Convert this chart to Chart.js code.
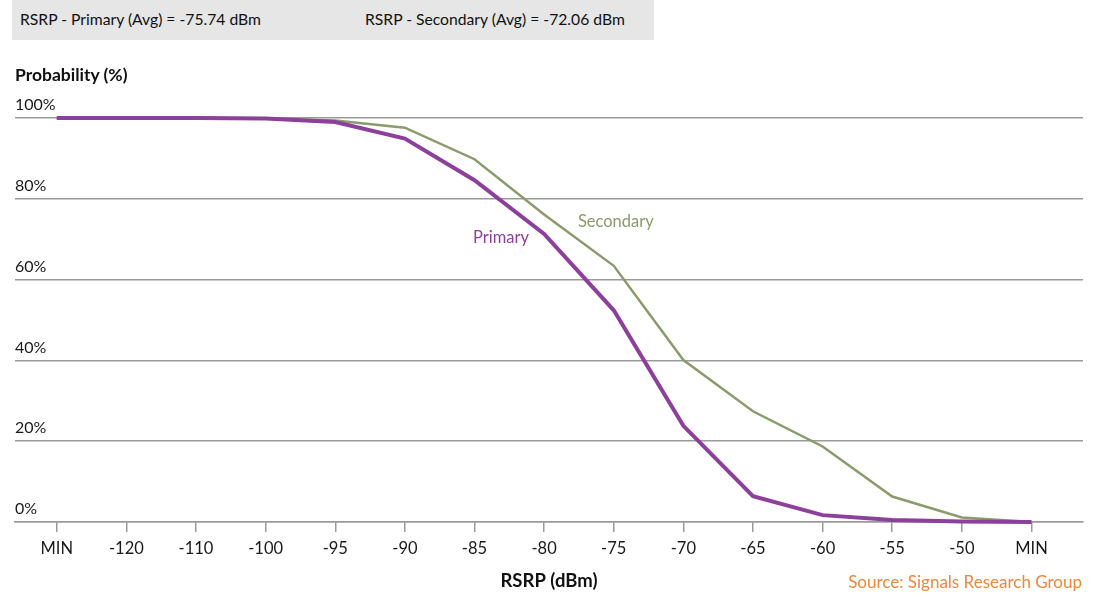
<!DOCTYPE html>
<html>
<head>
<meta charset="utf-8">
<title>RSRP distribution</title>
<script src="https://cdn.jsdelivr.net/npm/chart.js"></script>
<style>
  body { margin: 0; background: #fff; font-family: Lato, sans-serif; }
  #wrap { position: relative; width: 1102px; height: 596px; }
  #chart { position: absolute; left: 0; top: 0; }
  .avg { position: absolute; left: 12px; top: 0; width: 642px; height: 40px; background: #e6e6e6; font-size: 15.7px; color: #111; }
  .avg span { position: absolute; top: 10px; }
  .ytitle { position: absolute; left: 15px; top: 64px; font-weight: bold; font-size: 17.5px; color: #111; }
  .source { position: absolute; right: 20px; top: 571px; color: #f0873a; font-size: 17px; }
</style>
</head>
<body>
<div id="wrap">
  <canvas id="chart" width="1102" height="596"></canvas>
  <div class="avg">
    <span style="left:8px">RSRP - Primary (Avg) = -75.74 dBm</span>
    <span style="left:353px">RSRP - Secondary (Avg) = -72.06 dBm</span>
  </div>
  <div class="ytitle">Probability (%)</div>
  <div class="source">Source: Signals Research Group</div>
</div>
<script>
const xLabels = ['MIN', '-120', '-110', '-100', '-95', '-90', '-85', '-80', '-75', '-70', '-65', '-60', '-55', '-50', 'MIN'];
const primary = [100, 100, 100, 99.9, 99.0, 94.9, 84.6, 71.3, 52.4, 23.8, 6.4, 1.7, 0.5, 0.1, 0];
const secondary = [100, 100, 100, 99.9, 99.4, 97.6, 89.8, 76.1, 63.4, 40.1, 27.4, 18.7, 6.3, 1.1, 0];
const yTicks = [0, 20, 40, 60, 80, 100];

const PURPLE = '#8d3f9c';
const GREEN = '#8a9c6c';
const GRID = '#9a9a9a';

// series names written next to the curves, placed in data units
const seriesTags = [
  { text: 'Primary', x: 6.38, y: 70.5, color: PURPLE },
  { text: 'Secondary', x: 8.03, y: 74.4, color: GREEN }
];

Chart.defaults.font.family = 'Lato, sans-serif';
Chart.defaults.font.size = 16;
Chart.defaults.color = '#1a1a1a';

const toPoints = arr => arr.map((v, i) => ({ x: i, y: v }));

const tagPlugin = {
  id: 'seriesTags',
  afterDatasetsDraw(chart) {
    const { ctx, scales } = chart;
    ctx.save();
    ctx.font = '16.5px Lato, sans-serif';
    ctx.textAlign = 'center';
    ctx.textBaseline = 'middle';
    seriesTags.forEach(t => {
      ctx.fillStyle = t.color;
      ctx.fillText(t.text, scales.x.getPixelForValue(t.x), scales.y.getPixelForValue(t.y));
    });
    ctx.restore();
  }
};

new Chart(document.getElementById('chart'), {
  type: 'line',
  data: {
    datasets: [
      { label: 'Primary', data: toPoints(primary), borderColor: PURPLE, borderWidth: 4, pointRadius: 0, tension: 0, clip: false },
      { label: 'Secondary', data: toPoints(secondary), borderColor: GREEN, borderWidth: 2.5, pointRadius: 0, tension: 0, clip: false }
    ]
  },
  options: {
    responsive: false,
    animation: false,
    layout: { padding: { top: 118, left: 15, right: 19, bottom: 4 } },
    plugins: { legend: { display: false }, tooltip: { enabled: false } },
    scales: {
      x: {
        type: 'linear',
        min: -0.6,
        max: 14.74,
        afterBuildTicks: s => { s.ticks = xLabels.map((_, i) => ({ value: i })); },
        ticks: { callback: v => xLabels[v], autoSkip: false, maxRotation: 0, padding: 7, font: { size: 16.5 } },
        grid: { drawOnChartArea: false, drawTicks: true, tickLength: 10, color: GRID, lineWidth: 1.5 },
        border: { display: true, color: GRID, width: 1.5 },
        title: { display: true, text: 'RSRP (dBm)', font: { weight: 'bold', size: 18.5 }, color: '#111', padding: { top: 4, bottom: 0 } }
      },
      y: {
        min: 0,
        max: 100,
        afterBuildTicks: s => { s.ticks = yTicks.map(v => ({ value: v })); },
        ticks: { callback: v => v + '%', mirror: true, padding: 0, labelOffset: -13 },
        grid: { color: GRID, lineWidth: 1.5, drawTicks: false },
        border: { display: false }
      }
    }
  },
  plugins: [tagPlugin]
});
</script>
</body>
</html>
